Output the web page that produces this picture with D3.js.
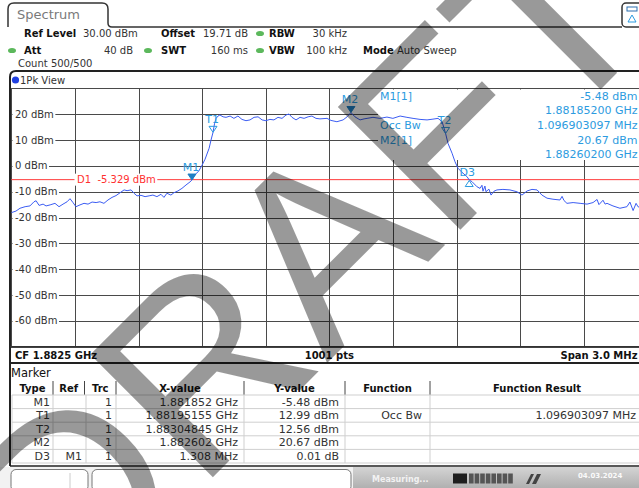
<!DOCTYPE html>
<html><head><meta charset="utf-8">
<script src="https://cdn.jsdelivr.net/npm/d3@7"></script>
<style>
html,body{margin:0;padding:0;background:#fff;overflow:hidden}
svg{display:block;font-family:"DejaVu Sans",sans-serif}
</style></head><body>
<svg id="c" width="639" height="488"></svg>
<script>
// ---------------- DATA ----------------
const freqStartMHz = 1881.0;
const freqStopMHz = 1884.0;
const levelTopDbm = 30;
const levelBottomDbm = -70;
const gridFreqMHz = [1881.0,1881.3,1881.6,1881.9,1882.2,1882.5,1882.8,1883.1,1883.4,1883.7,1884.0];
const gridLevelDbm = [30,20,10,0,-10,-20,-30,-40,-50,-60,-70];
const yTickLabels = ["20 dBm","10 dBm","0 dBm","-10 dBm","-20 dBm","-30 dBm","-40 dBm","-50 dBm","-60 dBm"];
const yTickValues = [20,10,0,-10,-20,-30,-40,-50,-60];

const traceFreqMHz = [
1881.000,1881.022,1881.041,1881.065,1881.088,1881.107,1881.117,1881.131,1881.150,1881.164,
1881.183,1881.206,1881.225,1881.244,1881.263,1881.277,1881.291,1881.305,1881.324,1881.343,
1881.362,1881.381,1881.400,1881.418,1881.437,1881.456,1881.475,1881.494,1881.513,1881.532,
1881.546,1881.565,1881.579,1881.593,1881.612,1881.631,1881.650,1881.668,1881.687,1881.706,
1881.720,1881.734,1881.753,1881.767,1881.786,1881.805,1881.824,1881.843,1881.852,1881.862,
1881.871,1881.885,1881.900,1881.914,1881.923,1881.933,1881.942,1881.9516,1881.959,1881.966,
1881.975,1881.984,1881.999,1882.013,1882.032,1882.050,1882.069,1882.088,1882.107,1882.126,
1882.145,1882.164,1882.183,1882.201,1882.220,1882.239,1882.258,1882.277,1882.296,1882.310,
1882.324,1882.343,1882.362,1882.381,1882.400,1882.418,1882.437,1882.456,1882.489,1882.508,
1882.536,1882.565,1882.584,1882.602,1882.621,1882.645,1882.664,1882.678,1882.706,1882.739,
1882.772,1882.800,1882.834,1882.866,1882.895,1882.928,1882.961,1882.989,1883.013,1883.032,
1883.0485,1883.060,1883.079,1883.093,1883.107,1883.126,1883.150,1883.160,1883.173,1883.197,
1883.211,1883.220,1883.225,1883.234,1883.239,1883.253,1883.263,1883.277,1883.291,1883.319,
1883.352,1883.385,1883.409,1883.433,1883.456,1883.480,1883.503,1883.527,1883.555,1883.588,
1883.598,1883.607,1883.621,1883.650,1883.683,1883.716,1883.744,1883.763,1883.772,1883.791,
1883.801,1883.810,1883.838,1883.871,1883.904,1883.918,1883.933,1883.947,1883.956,1883.980,
1884.000];
const traceLevelDbm = [
-18.1,-17.5,-16.4,-15.8,-15.5,-13.9,-13.5,-15.3,-14.8,-15.5,
-15.1,-14.5,-15.8,-14.8,-13.9,-12.7,-14.2,-15.8,-15.1,-14.5,
-14.8,-14.0,-14.2,-13.9,-14.5,-13.2,-12.2,-11.5,-10.4,-9.3,
-9.6,-9.3,-10.6,-11.6,-11.4,-11.9,-11.6,-11.3,-11.9,-11.0,
-12.2,-10.6,-11.3,-10.4,-9.7,-8.7,-7.4,-6.2,-5.48,-4.0,
-3.1,-1.9,0.3,2.6,4.6,6.8,10.0,12.99,16.5,18.4,
19.3,19.7,19.0,18.8,19.3,18.4,19.3,18.0,17.5,17.8,
18.8,19.0,17.8,17.5,18.0,17.8,18.8,18.4,19.7,20.1,
18.8,17.8,18.8,18.4,19.0,19.3,18.4,18.2,18.4,17.6,
17.1,17.8,19.0,20.67,19.0,17.8,18.2,18.4,18.8,18.4,
18.9,18.4,19.3,18.8,18.4,18.0,17.8,18.1,18.4,17.1,
12.56,8.7,4.9,1.6,-0.9,-2.5,-4.2,-5.47,-6.1,-8.1,
-8.7,-7.5,-9.8,-7.8,-10.0,-9.0,-11.3,-9.8,-9.3,-9.1,
-9.3,-10.0,-11.3,-9.7,-9.1,-9.3,-11.3,-12.5,-12.9,-13.2,
-11.8,-13.4,-14.5,-14.2,-14.5,-14.8,-14.2,-13.0,-15.0,-13.3,
-14.8,-14.5,-15.5,-16.4,-15.8,-14.0,-17.3,-14.5,-15.8,-16.5,
-17.0];

const displayLineDbm = -5.329;
const displayLineLabel = "D1  -5.329 dBm";

const markerNames = ["M1","T1","T2","M2","D3"];
const markerFreqMHz = [1881.852,1881.95155,1883.04845,1882.602,1883.160];
const markerLevelDbm = [-5.48,12.99,12.56,20.67,-5.47];

const readoutLeft = ["M1[1]","","Occ Bw","M2[1]",""];
const readoutRight = ["-5.48 dBm","1.88185200 GHz","1.096903097 MHz","20.67 dBm","1.88260200 GHz"];

const headerRow1 = [["Ref Level","b"],["30.00 dBm","n"],["Offset","b"],["19.71 dB","n"],["RBW","b"],["30 kHz","n"]];
const headerRow2 = [["Att","b"],["40 dB","n"],["SWT","b"],["160 ms","n"],["VBW","b"],["100 kHz","n"],["Mode","b"],["Auto Sweep","n"]];
const headerRow3 = "Count 500/500";
const tabTitle = "Spectrum";
const viewTitle = "1Pk View";
const footerLeft = "CF 1.8825 GHz";
const footerMid = "1001 pts";
const footerRight = "Span 3.0 MHz";

const tableTitle = "Marker";
const tableHeaders = ["Type","Ref","Trc","X-value","Y-value","Function","Function Result"];
const tableType = ["M1","T1","T2","M2","D3"];
const tableRef = ["","","","","M1"];
const tableTrc = ["1","1","1","1","1"];
const tableX = ["1.881852 GHz","1.88195155 GHz","1.88304845 GHz","1.882602 GHz","1.308 MHz"];
const tableY = ["-5.48 dBm","12.99 dBm","12.56 dBm","20.67 dBm","0.01 dB"];
const tableFunc = ["","Occ Bw","","",""];
const tableResult = ["","1.096903097 MHz","","",""];

const statusText = "Measuring...";
const statusDate = "04.03.2024";
const watermarkText = "DRAFT";

// ---------------- DRAW ----------------
const svg = d3.select("#c");
const PL = 11.3, PR = 647.3, PT = 88.4, PB = 346.7;
const x = d3.scaleLinear().domain([freqStartMHz, freqStopMHz]).range([PL, PR]);
const y = d3.scaleLinear().domain([levelBottomDbm, levelTopDbm]).range([PB, PT]);
const BLUE = "#2c9be0", TRACE = "#3b5cf2";

svg.append("rect").attr("width",639).attr("height",488).attr("fill","#fff");

function bgLabel(xp, yp, txt, size, color){
  const g = svg.append("g");
  const r = g.append("rect").attr("fill","#fff");
  const t = g.append("text").attr("x",xp).attr("y",yp).attr("dy","0.35em").attr("font-size",size)
    .attr("fill",color).attr("xml:space","preserve").text(txt);
  const w = t.node().getComputedTextLength();
  r.attr("x",xp-2.5).attr("y",yp-6).attr("width",w+4).attr("height",12);
  return g;
}

// Tab
svg.append("path")
  .attr("d","M8,27 L8,9 Q8,3 14,3 L102,3 Q108,3 108,9 L108,23 Q108,27 112,27 L622,27")
  .attr("fill","none").attr("stroke","#333").attr("stroke-width",1.5);
svg.append("text").attr("x",17).attr("y",19).attr("font-size",13).attr("fill","#7a7a7a").text(tabTitle);
svg.append("rect").attr("x",622).attr("y",3).attr("width",24).attr("height",24).attr("rx",4)
  .attr("fill","#fff").attr("stroke","#333").attr("stroke-width",1.5);
svg.append("rect").attr("x",627).attr("y",7).attr("width",10).attr("height",4).attr("fill","none").attr("stroke","#2a6fb0").attr("stroke-width",1);
svg.append("path").attr("d","M628,22 L632,15 L636,22 Z").attr("fill","none").attr("stroke",BLUE).attr("stroke-width",1);

// Header info
function hdr(items, xs, yb, anchors){
  items.forEach((it,i)=>{
    svg.append("text").attr("x",xs[i]).attr("y",yb).attr("font-size",10)
      .attr("font-weight", it[1]==="b" ? "bold" : "normal")
      .attr("text-anchor", anchors[i])
      .attr("fill", it[1]==="b" ? "#111" : "#333").text(it[0]);
  });
}
hdr(headerRow1,[24,83,161,248,269,347],37,["start","start","start","end","start","end"]);
hdr(headerRow2,[24,133,161,248,269,347,363,397],54,["start","end","start","end","start","end","start","start"]);
svg.append("text").attr("x",18).attr("y",67).attr("font-size",10).attr("fill","#333").text(headerRow3);
[[260,33.5],[12,50.5],[148,50.5],[260,50.5]].forEach(p=>{
  svg.append("ellipse").attr("cx",p[0]).attr("cy",p[1]).attr("rx",4).attr("ry",2.6).attr("fill","#5cb85c");
});

// View frame
svg.append("path").attr("d","M10,466 L10,77 Q10,71 16,71 L660,71")
  .attr("fill","none").attr("stroke","#222").attr("stroke-width",2);
svg.append("circle").attr("cx",15.5).attr("cy",80).attr("r",3.6).attr("fill","#1f3fe0");
svg.append("text").attr("x",20).attr("y",84).attr("font-size",10).attr("fill","#333").text(viewTitle);

// Grid via axes
const gx = svg.append("g").attr("transform",`translate(0,${PB})`)
  .call(d3.axisBottom(x).tickValues(gridFreqMHz).tickSize(-(PB-PT)).tickFormat(""));
const gy = svg.append("g").attr("transform",`translate(${PL},0)`)
  .call(d3.axisLeft(y).tickValues(gridLevelDbm).tickSize(-(PR-PL)).tickFormat(""));
[gx,gy].forEach(g=>{ g.select(".domain").remove(); g.selectAll("line").attr("stroke","#4a4a4a").attr("stroke-width",1).attr("shape-rendering","crispEdges"); });

yTickValues.forEach((v,i)=> bgLabel(15, y(v), yTickLabels[i], 10, "#333"));

// Readout box
svg.append("rect").attr("x",378).attr("y",89.5).attr("width",280).attr("height",70.5).attr("fill","#fff");

// Display line
svg.append("line").attr("x1",PL).attr("x2",PR).attr("y1",y(displayLineDbm)).attr("y2",y(displayLineDbm))
  .attr("stroke","#ff3b3b").attr("stroke-width",1);
bgLabel(77, y(displayLineDbm), displayLineLabel, 10, "#ff3030");

// Trace
svg.append("clipPath").attr("id","pc").append("rect").attr("x",PL).attr("y",PT).attr("width",PR-PL).attr("height",PB-PT);
const traceData = traceFreqMHz.map((f,i)=>[f,traceLevelDbm[i]]);
svg.append("path").datum(traceData).attr("clip-path","url(#pc)")
  .attr("d", d3.line().x(d=>x(d[0])).y(d=>y(d[1])))
  .attr("fill","none").attr("stroke",TRACE).attr("stroke-width",1);

// Markers
markerNames.forEach((n,i)=>{
  const px = x(markerFreqMHz[i]), py = y(markerLevelDbm[i]);
  const kind = n[0];
  if(kind==="D"){
    svg.append("path").attr("d",`M${px},${py+0.5} L${px+4},${py+6.5} L${px-4},${py+6.5} Z`)
      .attr("fill","none").attr("stroke",BLUE).attr("stroke-width",1);
    svg.append("text").attr("x",px-2).attr("y",py-4).attr("text-anchor","middle").attr("font-size",11).attr("fill",BLUE).text(n);
  } else {
    svg.append("path").attr("d",`M${px},${py} L${px+4},${py-6} L${px-4},${py-6} Z`)
      .attr("fill", kind==="M" ? "#1f7fc4" : "none").attr("stroke", kind==="M" ? "#1f7fc4" : BLUE).attr("stroke-width",1);
    svg.append("text").attr("x",px-1).attr("y",py-9).attr("text-anchor","middle").attr("font-size",11).attr("fill",BLUE).text(n);
  }
});

// Readout texts
const rb = [99.5,114,128.5,143.5,157.5];
readoutLeft.forEach((t,i)=>{ if(t) svg.append("text").attr("x",380).attr("y",rb[i]).attr("font-size",11).attr("fill",BLUE).text(t); });
readoutRight.forEach((t,i)=>{ svg.append("text").attr("x",637.5).attr("y",rb[i]).attr("text-anchor","end").attr("font-size",11).attr("fill",BLUE).text(t); });

// Footer of plot
svg.append("line").attr("x1",10).attr("x2",660).attr("y1",PB).attr("y2",PB).attr("stroke","#333").attr("stroke-width",1.2);
svg.append("line").attr("x1",10).attr("x2",660).attr("y1",363).attr("y2",363).attr("stroke","#222").attr("stroke-width",2);
svg.append("text").attr("x",15).attr("y",358.5).attr("font-size",10).attr("font-weight","bold").attr("fill","#111").text(footerLeft);
svg.append("text").attr("x",(PL+PR)/2).attr("y",358.5).attr("text-anchor","middle").attr("font-size",10).attr("font-weight","bold").attr("fill","#111").text(footerMid);
svg.append("text").attr("x",637.5).attr("y",358.5).attr("text-anchor","end").attr("font-size",10).attr("font-weight","bold").attr("fill","#111").text(footerRight);

// Marker table
svg.append("text").attr("x",11).attr("y",376.5).attr("font-size",11.5).attr("fill","#111").text(tableTitle);
const colB = [12,53,84.5,116,244,345,430,644];
const rowTop = 395, rowH = 13.6;
tableHeaders.forEach((h,i)=>{
  svg.append("text").attr("x",(colB[i]+colB[i+1])/2).attr("y",391.5).attr("text-anchor","middle")
    .attr("font-size",10).attr("font-weight","bold").attr("fill","#111").text(h);
  if(i>0) svg.append("line").attr("x1",colB[i]).attr("x2",colB[i]).attr("y1",381).attr("y2",395).attr("stroke","#444").attr("stroke-width",1);
});
for(let r=0;r<=5;r++){
  svg.append("line").attr("x1",12).attr("x2",660).attr("y1",rowTop+r*rowH).attr("y2",rowTop+r*rowH).attr("stroke","#cfcfcf").attr("stroke-width",1);
}
[12,53,86,116,244,345,430].forEach(cx=>{
  svg.append("line").attr("x1",cx).attr("x2",cx).attr("y1",rowTop).attr("y2",rowTop+5*rowH).attr("stroke","#cfcfcf").attr("stroke-width",1);
});
const cols = [[tableType,50],[tableRef,82],[tableTrc,112],[tableX,238],[tableY,339],[tableFunc,422],[tableResult,636]];
cols.forEach(c=>{
  c[0].forEach((t,r)=>{
    if(t) svg.append("text").attr("x",c[1]).attr("y",rowTop+r*rowH+10.5).attr("text-anchor","end")
      .attr("font-size",11).attr("fill","#333").text(t);
  });
});
svg.append("line").attr("x1",10).attr("x2",660).attr("y1",466).attr("y2",466).attr("stroke","#222").attr("stroke-width",1.5);

// Status bar
const sg = svg.append("defs").append("linearGradient").attr("id","sb").attr("x1",0).attr("x2",0).attr("y1",0).attr("y2",1);
sg.append("stop").attr("offset","0").attr("stop-color","#d4d4d4");
sg.append("stop").attr("offset","1").attr("stop-color","#b0b0b0");
svg.append("rect").attr("x",0).attr("y",467).attr("width",639).attr("height",21).attr("fill","#f2f2f2");
svg.append("rect").attr("x",353).attr("y",467).attr("width",286).attr("height",21).attr("fill","url(#sb)");
svg.append("rect").attr("x",11).attr("y",469.5).attr("width",77).attr("height",22).attr("rx",5).attr("fill","#fff").attr("stroke","#777");
svg.append("line").attr("x1",70).attr("x2",70).attr("y1",473).attr("y2",488).attr("stroke","#ccc");
svg.append("rect").attr("x",92).attr("y",469.5).attr("width",259).attr("height",22).attr("rx",5).attr("fill","#fff").attr("stroke","#777");
svg.append("text").attr("x",372).attr("y",482).attr("font-size",8).attr("font-weight","bold").attr("fill","#f2f2f2").text(statusText);
svg.append("rect").attr("x",453).attr("y",473.5).attr("width",14).attr("height",10).attr("fill","#1e1e1e");
d3.range(8).forEach(i=>{
  svg.append("rect").attr("x",469+i*5.6).attr("y",473.5).attr("width",4.6).attr("height",10).attr("fill","#555");
});
svg.append("path").attr("d","M526,484 L531,474 L534,474 L529,484 Z M532,484 L537,474 L541,474 L536,484 Z").attr("fill","#444");
svg.append("text").attr("x",578).attr("y",478).attr("font-size",7).attr("font-weight","bold").attr("fill","#fafafa").text(statusDate);

// Watermark
svg.append("text").attr("transform","translate(69.5,620.5) rotate(-45)")
  .attr("font-family","Liberation Sans").attr("font-size",252)
  .attr("fill","#000").attr("fill-opacity",0.4).text(watermarkText);
</script>
</body></html>
